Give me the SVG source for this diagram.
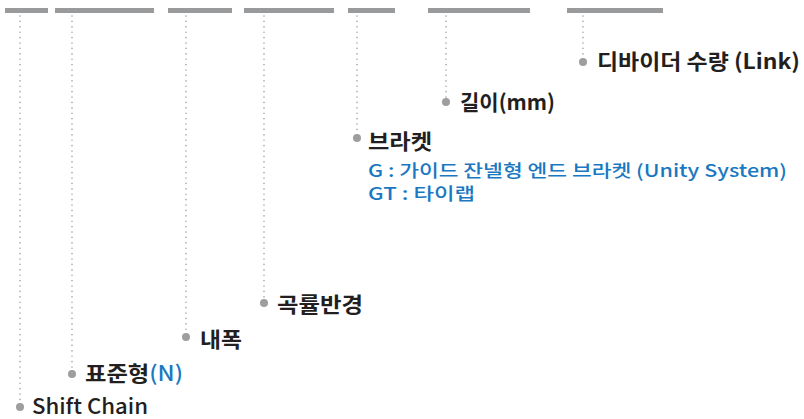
<svg xmlns="http://www.w3.org/2000/svg" width="804" height="419" viewBox="0 0 804 419">
<style>
.bar{fill:#999a9c}
.lead{stroke:#a6a7a9;stroke-width:1.6;stroke-dasharray:0.1 5.3;stroke-linecap:round;fill:none}
.dot{fill:#9d9ea0}
.lbl{font-family:"Noto Sans CJK KR","Noto Sans",sans-serif;font-weight:700;font-size:21px;fill:#231f20}
.en{font-family:"Noto Sans CJK KR","Noto Sans",sans-serif;font-weight:500;font-size:21px;fill:#231f20}
.blue{fill:#1a78c2}
.sub{font-family:"Noto Sans CJK KR","Noto Sans",sans-serif;font-weight:500;font-size:17.5px;fill:#1a78c2}
</style>
<rect width="804" height="419" fill="#ffffff"/>
<g id="bars">
<rect class="bar" x="5" y="8" width="43" height="5"/>
<rect class="bar" x="55" y="8" width="99" height="5"/>
<rect class="bar" x="168" y="8" width="64" height="5"/>
<rect class="bar" x="244" y="8" width="90" height="5"/>
<rect class="bar" x="348" y="8" width="47" height="5"/>
<rect class="bar" x="428" y="8" width="102" height="5"/>
<rect class="bar" x="567" y="8" width="96" height="5"/>
</g>
<g id="connectors">
<line class="lead" x1="20" y1="16" x2="20" y2="404"/>
<line class="lead" x1="72" y1="16" x2="72" y2="371"/>
<line class="lead" x1="186" y1="16" x2="186" y2="334"/>
<line class="lead" x1="264" y1="16" x2="264" y2="300"/>
<line class="lead" x1="357" y1="16" x2="357" y2="135"/>
<line class="lead" x1="446" y1="16" x2="446" y2="99"/>
<line class="lead" x1="583" y1="16" x2="583" y2="59"/>
</g>
<g id="shift-chain">
<circle class="dot" cx="20" cy="407" r="4"/>
<text class="en" x="32" y="414" textLength="116" lengthAdjust="spacingAndGlyphs">Shift Chain</text>
</g>
<g id="standard">
<circle class="dot" cx="72" cy="374" r="4"/>
<text class="lbl" x="85" y="381" textLength="98" lengthAdjust="spacingAndGlyphs">표준형<tspan class="blue" font-weight="500">(N)</tspan></text>
</g>
<g id="inner-width">
<circle class="dot" cx="186" cy="337" r="4"/>
<text class="lbl" x="200" y="347" textLength="42" lengthAdjust="spacingAndGlyphs">내폭</text>
</g>
<g id="bend-radius">
<circle class="dot" cx="264" cy="303" r="4"/>
<text class="lbl" x="277" y="312" textLength="86" lengthAdjust="spacingAndGlyphs">곡률반경</text>
</g>
<g id="bracket">
<circle class="dot" cx="357" cy="138" r="4"/>
<text class="lbl" x="368" y="149" textLength="64" lengthAdjust="spacingAndGlyphs">브라켓</text>
<text class="sub" x="368" y="177" textLength="419" lengthAdjust="spacingAndGlyphs">G : 가이드 잔넬형 엔드 브라켓 (Unity System)</text>
<text class="sub" x="368" y="200" textLength="107" lengthAdjust="spacingAndGlyphs">GT : 타이랩</text>
</g>
<g id="length">
<circle class="dot" cx="446" cy="102" r="4"/>
<text class="lbl" x="460" y="110" textLength="95" lengthAdjust="spacingAndGlyphs">길이(mm)</text>
</g>
<g id="divider">
<circle class="dot" cx="583" cy="62" r="4"/>
<text class="lbl" x="597" y="69" textLength="203" lengthAdjust="spacingAndGlyphs">디바이더 수량 (Link)</text>
</g>
</svg>
